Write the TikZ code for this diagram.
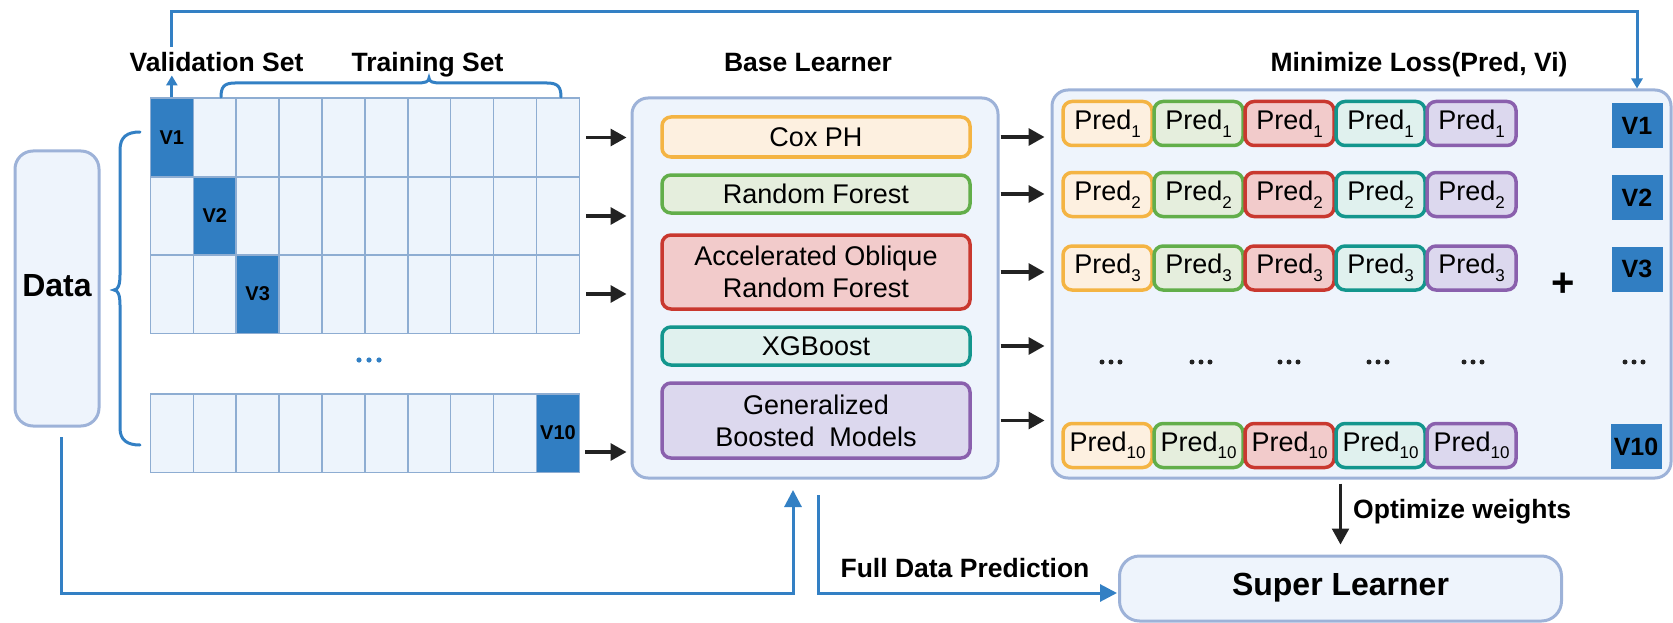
\documentclass[tikz,border=0pt]{standalone}
\usepackage{fontspec}
\setmainfont{Liberation Sans}
\usetikzlibrary{arrows.meta}
\definecolor{lineblue}{HTML}{3380C4}
\definecolor{vblue}{HTML}{317EC2}
\definecolor{cellfill}{HTML}{EDF4FC}
\definecolor{gridline}{HTML}{8EADD2}
\definecolor{boxfill}{HTML}{EEF4FC}
\definecolor{boxline}{HTML}{9DB2D8}
\definecolor{arrowblack}{HTML}{222222}
\definecolor{oline}{HTML}{F4B443}\definecolor{ofill}{HTML}{FDF0E0}
\definecolor{gline}{HTML}{62AE4A}\definecolor{gfill}{HTML}{E5EEDD}
\definecolor{rline}{HTML}{C9382F}\definecolor{rfill}{HTML}{F2CBCB}
\definecolor{tline}{HTML}{13968D}\definecolor{tfill}{HTML}{E0F1EE}
\definecolor{pline}{HTML}{8A60AD}\definecolor{pfill}{HTML}{DCD8EE}
\newcommand{\labfont}{\fontsize{26.5}{30}\selectfont\bfseries}
\newcommand{\boxfont}{\fontsize{27}{32}\selectfont}
\newcommand{\predsub}[1]{\raisebox{-0.28em}{\fontsize{17}{18}\selectfont #1}}
\begin{document}
\begin{tikzpicture}[x=1pt,y=-1pt,
  bigbox/.style={draw=boxline,line width=3,fill=boxfill,inner sep=0},
  cell/.style={draw=gridline,line width=1.5,fill=cellfill,inner sep=0,minimum width=42.9,minimum height=78.5},
  vcell/.style={cell,fill=vblue,font=\fontsize{20}{22}\selectfont\bfseries},
  lbox/.style 2 args={draw=#1,fill=#2,line width=3.5,rounded corners=9,inner sep=0,minimum width=308,align=center,font=\boxfont},
  pbox/.style 2 args={draw=#1,fill=#2,line width=3.5,rounded corners=9,inner sep=0,minimum width=89,minimum height=44,font=\boxfont},
  vright/.style={fill=vblue,inner sep=0,minimum width=51,minimum height=45,font=\fontsize{25}{28}\selectfont\bfseries},
  lab/.style={font=\labfont,inner sep=3,anchor=base},
  blackarr/.style={draw=arrowblack,line width=3.2,-{Triangle[length=16,width=17]}},
  bluebig/.style={draw=lineblue,line width=3,-{Triangle[length=17,width=17]}},
  bluesmall/.style={draw=lineblue,line width=3,-{Triangle[length=10,width=11]}},
  bluebrace/.style={draw=lineblue,line width=3,line cap=round}
]
\useasboundingbox (0,0) rectangle (1673,623);

% Data box
\node[bigbox,rounded corners=18,minimum width=84,minimum height=275] (data) at (57,288.5) {};
\node[font=\fontsize{32}{36}\selectfont\bfseries] (datat) at (57,286) {Data};

% grid
\foreach \r/\y/\v in {1/137.5/1,2/216/2,3/294/3,4/433/10}{
  \foreach \c in {1,...,10}{
    \ifnum\c=\v
      \node[vcell] (g\r-\c) at ({128.95+42.9*\c},\y) {V\v};
    \else
      \node[cell] (g\r-\c) at ({128.95+42.9*\c},\y) {};
    \fi
  }
}
\foreach \x in {359,369,379} \fill[lineblue] (\x,360) circle (2.6);

% left brace
\draw[bluebrace] (140,132) .. controls (127,132) and (120,137) .. (120,150) -- (120,275)
  .. controls (120,285) and (118,290) .. (114,290) .. controls (118,290) and (120,295) .. (120,305)
  -- (120,428) .. controls (120,440) and (127,445) .. (140,445);
% training brace
\draw[bluebrace] (221,97) .. controls (221,87) and (224,83) .. (235,83) -- (416,83)
  .. controls (425,83) and (429,82) .. (429,78) .. controls (429,82) and (433,83) .. (442,83)
  -- (547,83) .. controls (558,83) and (561,87) .. (561,97);

% labels
\node[lab] (vlabel) at (216.5,72) {Validation Set};
\node[lab] (tlabel) at (427.5,72) {Training Set};
\node[lab] (blabel) at (808,72) {Base Learner};
\node[lab] (mlabel) at (1419,72) {Minimize Loss(Pred, Vi)};

% base learner
\node[bigbox,rounded corners=16,minimum width=366,minimum height=380] (base) at (815,288) {};
\node[lbox={oline}{ofill},minimum height=40] (cox) at (816,137) {Cox PH};
\node[lbox={gline}{gfill},minimum height=38] (rf) at (816,194) {Random Forest};
\node[lbox={rline}{rfill},minimum height=74] (aorf) at (816,272) {Accelerated Oblique\\Random Forest};
\node[lbox={tline}{tfill},minimum height=38] (xgb) at (816,346) {XGBoost};
\node[lbox={pline}{pfill},minimum height=75] (gbm) at (816,420.5) {Generalized\\Boosted\ \ Models};

% minimize box
\node[bigbox,rounded corners=16,minimum width=619,minimum height=388] (min) at (1361.5,284) {};
\foreach \r/\y in {1/123.5,2/194.5,3/268,10/445.5}{
  \foreach \lc/\fc [count=\i] in {oline/ofill,gline/gfill,rline/rfill,tline/tfill,pline/pfill}{
    \node[pbox={\lc}{\fc}] (p\r-\i) at ({1016.5+91*\i},\y) {Pred\predsub{\r}};
  }
}
\node[vright] (v1) at (1637,126) {V1};
\node[vright] (v2) at (1637,197.5) {V2};
\node[vright] (v3) at (1637,269) {V3};
\node[vright] (v10) at (1636,446.5) {V10};
\node[font=\fontsize{40}{40}\selectfont\bfseries,inner sep=0] (plus) at (1563,285) {+};
\foreach \x in {1111,1201,1289,1378,1473,1634}{
  \foreach \d in {-9,0,9} \fill[arrowblack] (\x+\d,362) circle (2.5);
}

% super learner
\node[bigbox,rounded corners=20,minimum width=442,minimum height=65] (super) at (1340.5,588.5) {};
\node[font=\fontsize{32}{36}\selectfont\bfseries] (supert) at (1340.5,588) {Super Learner};

% arrows grid -> base
\foreach \r in {1,2,3}{
  \draw[blackarr,shorten <=6,shorten >=4] (g\r-10.east) -- (g\r-10.east -| base.west);
}
\coordinate (r4out) at (579,452);
\draw[blackarr,shorten <=6,shorten >=4] (r4out) -- (r4out -| base.west);

% arrows base -> min
\foreach \n in {cox,rf,aorf,xgb,gbm}{
  \draw[blackarr,shorten <=1,shorten >=6] (\n.east -| base.east) -- (\n.east -| min.west);
}

% validation arrows
\draw[bluesmall] (g1-1.north) -- (g1-1.north |- vlabel.south);
\draw[bluesmall] (g1-1.north |- 0,47) |- (v1.north |- 0,12) -- (v1.north |- min.north);

% bottom lines
\coordinate (bin) at (793,478);
\coordinate (bout) at (818,478);
\coordinate (sin) at (1119,593);
\draw[bluebig,shorten <=11,shorten >=12] (61,426) -- (61,593) -| (bin);
\draw[bluebig,shorten <=17,shorten >=2] (bout) |- (sin);
\node[lab] (flabel) at (965,577) {Full Data Prediction};

% optimize
\draw[draw=arrowblack,line width=2.5,-{Triangle[length=16,width=17]},shorten <=4,shorten >=10] (super.north |- min.south) -- (super.north);
\node[lab,anchor=base west] (olabel) at (1350,518) {Optimize weights};
\end{tikzpicture}
\end{document}
